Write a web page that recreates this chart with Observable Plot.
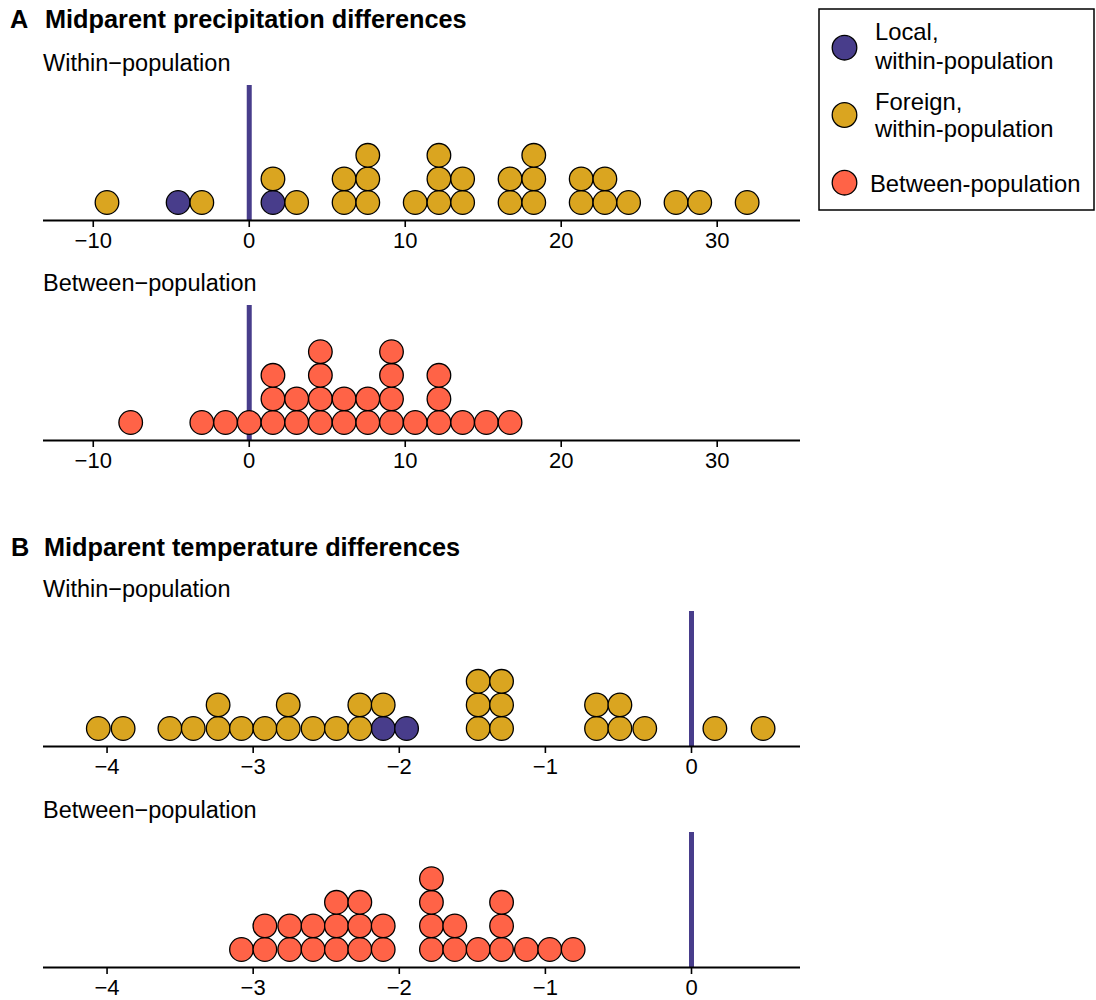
<!DOCTYPE html>
<html><head><meta charset="utf-8">
<script src="https://cdn.jsdelivr.net/npm/d3@7"></script>
<script src="https://cdn.jsdelivr.net/npm/@observablehq/plot@0.6"></script>
<style>
body{margin:0;background:#fff;}
#wrap{position:relative;width:1096px;height:1000px;overflow:hidden;font-family:"Liberation Sans",Arial,Helvetica,sans-serif;}
#wrap svg{position:absolute;}
.panel g[aria-label^="x-axis"] line,.panel g[aria-label^="x-axis"] path{stroke-width:1.6px;}
</style></head>
<body><div id="wrap"></div>
<script>
// ---- data ----
const types = ["local", "foreign", "between"];
const typeColors = ["#483D8B", "#DAA520", "#FF6347"];
const legendLabels = [["Local,", "within-population"], ["Foreign,", "within-population"], ["Between-population"]];

const precipTicks = [-10, 0, 10, 20, 30];
const tempTicks = [-4, -3, -2, -1, 0];

const precipWithinLocal = [-4.56, 1.52];
const precipWithinForeign = [-9.12, -3.04, 1.52, 3.04, 6.08, 6.08, 7.6, 7.6, 7.6, 10.64,
  12.16, 12.16, 12.16, 13.68, 13.68, 16.72, 16.72, 18.24, 18.24, 18.24,
  21.28, 21.28, 22.8, 22.8, 24.32, 27.36, 28.88, 31.92];
const precipBetween = [-7.6, -3.04, -1.52, 0, 1.52, 1.52, 1.52, 3.04, 3.04,
  4.56, 4.56, 4.56, 4.56, 6.08, 6.08, 7.6, 7.6, 9.12, 9.12, 9.12, 9.12,
  10.64, 12.16, 12.16, 12.16, 13.68, 15.2, 16.72];

const tempWithinLocal = [-2.11, -1.95];
const tempWithinForeign = [-4.06, -3.89, -3.57, -3.41, -3.24, -3.24, -3.08, -2.92,
  -2.76, -2.76, -2.59, -2.43, -2.27, -2.27, -2.11, -1.46, -1.46, -1.46,
  -1.30, -1.30, -1.30, -0.65, -0.65, -0.49, -0.49, -0.32, 0.16, 0.49];
const tempBetween = [-3.08, -2.92, -2.92, -2.75, -2.75, -2.59, -2.59, -2.43, -2.43, -2.43,
  -2.27, -2.27, -2.27, -2.11, -2.11, -1.78, -1.78, -1.78, -1.78, -1.62, -1.62,
  -1.46, -1.30, -1.30, -1.30, -1.13, -0.97, -0.81];

// ---- build stacked points ----
function stack(groups) {
  const counts = new Map();
  const out = [];
  for (const [type, values] of groups) {
    for (const v of values) {
      const key = v.toFixed(2);
      const k = counts.get(key) || 0;
      counts.set(key, k + 1);
      out.push({value: v, k, type});
    }
  }
  return out;
}

const wrap = document.getElementById("wrap");
const FONT = '"Liberation Sans", Arial, Helvetica, sans-serif';
const unit = 23.6, base = 18, span = 135;
const yLo = -base / unit, yHi = (span - base) / unit;

function panel(points, xDomain, ticks, lineTop) {
  const chart = Plot.plot({
    width: 810, height: 180,
    marginLeft: 43, marginRight: 10, marginTop: 5, marginBottom: 40,
    x: {domain: xDomain, ticks, tickSize: 7, tickPadding: 5, label: null, tickFormat: d3.format("")},
    y: {domain: [yLo, yHi], axis: null},
    color: {domain: types, range: typeColors},
    style: {fontSize: "22px", fontFamily: FONT, background: "transparent", color: "black", overflow: "visible"},
    marks: [
      Plot.ruleX([{x: 0, y1: yLo, y2: yHi}], {x: "x", y1: "y1", y2: "y2", stroke: typeColors[0], strokeWidth: 5}),
      Plot.dot(points, {x: "value", y: "k", fill: "type", r: 11.8, stroke: "black", strokeWidth: 1.3}),
      Plot.ruleY([yLo], {stroke: "black", strokeWidth: 2})
    ]
  });
  chart.classList.add("panel");
  chart.style.left = "0px";
  chart.style.top = (lineTop - 5) + "px";
  wrap.appendChild(chart);
}

const precipDomain = [-13.19, 35.34];
const tempDomain = [-4.435, 0.746];

panel(stack([["local", precipWithinLocal], ["foreign", precipWithinForeign]]), precipDomain, precipTicks, 85);
panel(stack([["between", precipBetween]]), precipDomain, precipTicks, 305);
panel(stack([["local", tempWithinLocal], ["foreign", tempWithinForeign]]), tempDomain, tempTicks, 611);
panel(stack([["between", tempBetween]]), tempDomain, tempTicks, 832);

// ---- titles, subtitles, legend ----
const svg = d3.select(wrap).append("svg")
  .attr("width", 1096).attr("height", 1000)
  .style("left", "0px").style("top", "0px")
  .style("font-family", FONT).style("pointer-events", "none");

const titles = [
  {t: "A", x: 10, y: 28, bold: true, size: 25.3},
  {t: "Midparent precipitation differences", x: 45, y: 28, bold: true, size: 25.3},
  {t: "Within\u2212population", x: 43, y: 71, size: 23.5},
  {t: "Between\u2212population", x: 43, y: 291, size: 23.5},
  {t: "B", x: 11, y: 556, bold: true, size: 25.3},
  {t: "Midparent temperature differences", x: 44, y: 556, bold: true, size: 25.3},
  {t: "Within\u2212population", x: 43, y: 597, size: 23.5},
  {t: "Between\u2212population", x: 43, y: 818, size: 23.5}
];
svg.selectAll("text.title").data(titles).join("text")
  .attr("class", "title")
  .attr("x", d => d.x).attr("y", d => d.y)
  .attr("font-size", d => d.size)
  .attr("font-weight", d => d.bold ? "bold" : "normal")
  .text(d => d.t);

const lg = svg.append("g");
lg.append("rect").attr("x", 819).attr("y", 9).attr("width", 275).attr("height", 201)
  .attr("fill", "white").attr("stroke", "black").attr("stroke-width", 1.5);
const circleY = [47.7, 115, 182.7];
const textLines = [[40, 68.5], [110, 137], [192]];
const textX = [875, 875, 870];
types.forEach((t, i) => {
  lg.append("circle").attr("cx", 844.5).attr("cy", circleY[i]).attr("r", 12.3)
    .attr("fill", typeColors[i]).attr("stroke", "black").attr("stroke-width", 1.3);
  legendLabels[i].forEach((line, j) => {
    lg.append("text").attr("x", textX[i]).attr("y", textLines[i][j])
      .attr("font-size", 23.8).text(line);
  });
});
</script>
</body></html>
